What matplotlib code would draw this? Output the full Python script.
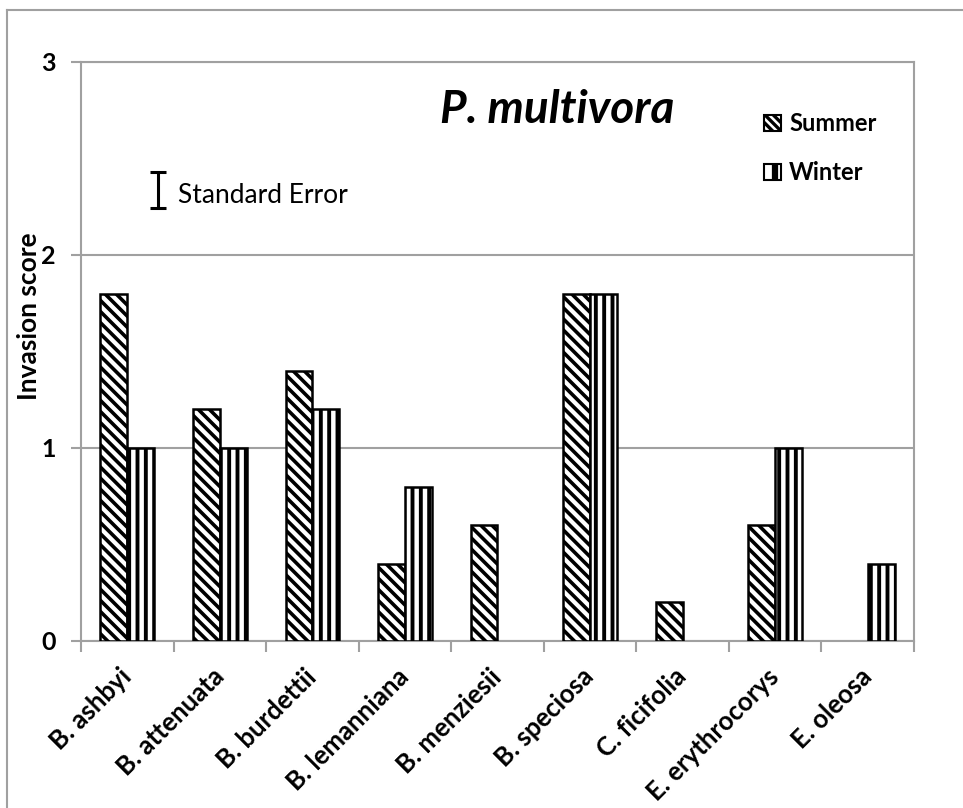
import matplotlib.pyplot as plt
import matplotlib as mpl
from matplotlib.patches import Patch
import numpy as np

plt.rcParams['font.family'] = ['Lato', 'DejaVu Sans']

species = ['B. ashbyi', 'B. attenuata', 'B. burdettii', 'B. lemanniana', 'B. menziesii',
           'B. speciosa', 'C. ficifolia', 'E. erythrocorys', 'E. oleosa']
summer = [1.8, 1.2, 1.4, 0.4, 0.6, 1.8, 0.2, 0.6, 0.0]
winter = [1.0, 1.0, 1.2, 0.8, 0.0, 1.8, 0.0, 1.0, 0.4]

grey = '#a0a0a0'
bs = chr(92)  # backslash for hatch
fig = plt.figure(figsize=(9.63, 8.08), dpi=100)
ax = fig.add_axes([0.0841, 0.2067, 0.865, 0.7166])

x = np.arange(len(species)) + 0.5
w = 0.29


def set_hlw(patches, lw):
    for p in patches:
        if hasattr(p, 'set_hatch_linewidth'):
            p.set_hatch_linewidth(lw)


mpl.rcParams['hatch.linewidth'] = 2.6
b1 = ax.bar(x - w / 2, summer, w, facecolor='white', edgecolor='black', linewidth=1.8,
            hatch=bs * 3, zorder=3)
set_hlw(b1, 2.6)
mpl.rcParams['hatch.linewidth'] = 2.8
b2 = ax.bar(x + w / 2, winter, w, facecolor='white', edgecolor='black', linewidth=1.8,
            hatch='||', zorder=3)
set_hlw(b2, 2.8)
# hide zero-height bars
for bars, vals in ((b1, summer), (b2, winter)):
    for b, v in zip(bars, vals):
        if v == 0:
            b.set_visible(False)

ax.set_xlim(0, len(species))
ax.set_ylim(0, 3)
ax.set_yticks([0, 1, 2, 3])
ax.set_yticklabels(['0', '1', '2', '3'], fontsize=18, fontweight='bold')
ax.set_xticks(np.arange(len(species) + 1))
ax.set_xticklabels([])
ax.set_xticks(x, minor=True)
ax.set_xticklabels(species, minor=True, rotation=45, ha='right', va='center',
                   rotation_mode='anchor', fontsize=18.5, fontweight='bold')
ax.tick_params(axis='x', which='minor', length=0, pad=23)
ax.tick_params(axis='x', which='major', length=8, width=1.5, color=grey)
ax.tick_params(axis='y', length=7, width=1.5, color=grey, pad=11)
ax.yaxis.grid(True, color=grey, linewidth=1.5, zorder=0)
ax.set_axisbelow(True)
for s in ax.spines.values():
    s.set_color(grey)
    s.set_linewidth(1.5)

ax.set_ylabel('Invasion score', fontsize=19, fontweight='bold')
ax.yaxis.set_label_coords(-0.048, 0.561)

ax.text(0.572, 0.917, 'P. multivora', transform=ax.transAxes, ha='center', va='center',
        fontsize=33, fontweight='bold', fontstyle='italic')

# standard error key
ax.errorbar([0.092], [0.779], yerr=[[0.031], [0.031]], transform=ax.transAxes,
            color='black', linewidth=2.2, capsize=6, capthick=2.2, fmt='none')
ax.text(0.116, 0.770, 'Standard Error', transform=ax.transAxes, ha='left', va='center',
        fontsize=19)

h1 = Patch(facecolor='white', edgecolor='black', linewidth=1.5, hatch=bs * 4, label='Summer')
h2 = Patch(facecolor='white', edgecolor='black', linewidth=1.5, hatch='|', label='Winter')
leg = ax.legend(handles=[h1, h2], loc='upper left', bbox_to_anchor=(0.795, 0.95),
                frameon=False, handlelength=0.7, handleheight=0.7, handletextpad=0.35,
                labelspacing=1.1, prop={'weight': 'bold', 'size': 17})
set_hlw(leg.get_patches()[:1], 2.4)
set_hlw(leg.get_patches()[1:], 4.5)

# outer chart border
fig.add_artist(plt.Line2D([0.0073, 0.0073], [0.0, 0.9876], color=grey, linewidth=1.5))
fig.add_artist(plt.Line2D([0.0073, 1.0], [0.9876, 0.9876], color=grey, linewidth=1.5))

fig.savefig('out.png', dpi=100)
